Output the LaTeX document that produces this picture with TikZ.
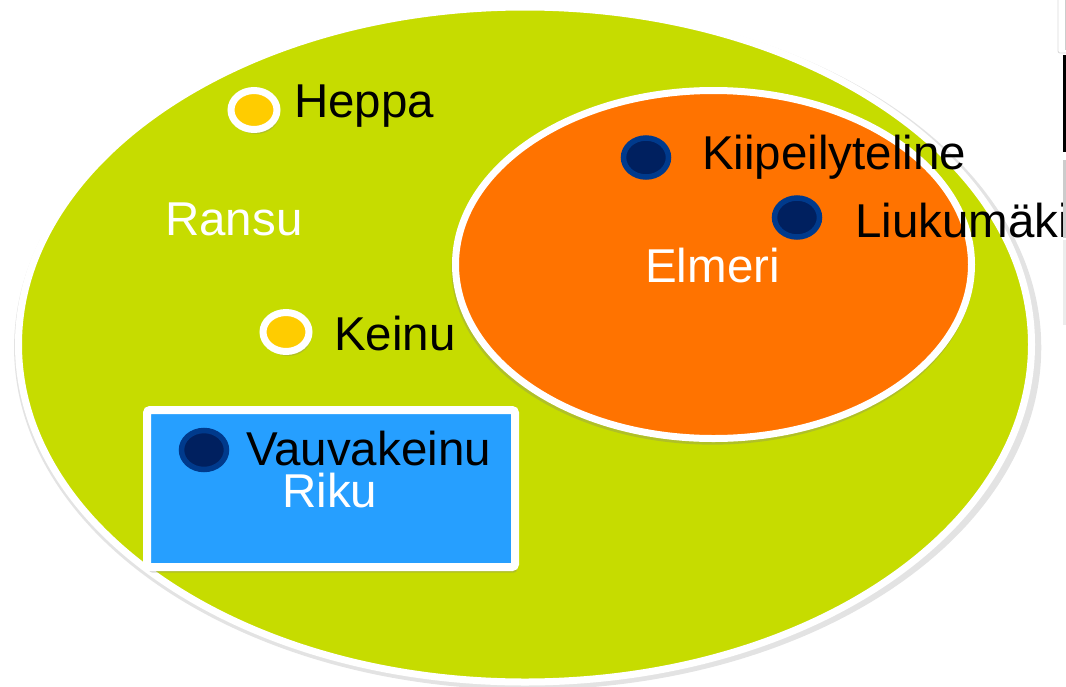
\documentclass[tikz,border=0pt]{standalone}
\usepackage{fontspec}
\setmainfont{Liberation Sans}
\usetikzlibrary{shapes.geometric,shadows}
\definecolor{ransugreen}{HTML}{C6DC00}
\definecolor{elmeriorange}{HTML}{FF7300}
\definecolor{rikublue}{HTML}{269FFF}
\definecolor{toyyellow}{HTML}{FFCC00}
\definecolor{toynavy}{HTML}{00205F}
\definecolor{toyrim}{HTML}{003A8C}
\tikzset{
    region/.style={
           draw=white, line width=7pt,
           },
    yellowdot/.style={
           ellipse, draw=white, fill=toyyellow, line width=7pt,
           minimum width=46pt, minimum height=39pt, inner sep=0pt,
           drop shadow={opacity=0.3, shadow xshift=2pt, shadow yshift=-4.5pt},
           },
    bluedot/.style={
           ellipse, draw=toyrim, fill=toynavy, line width=5.5pt,
           minimum width=45pt, minimum height=39pt, inner sep=0pt,
           },
    setlabel/.style={
           text=white, font=\fontsize{47.5}{52}\selectfont,
           inner sep=0pt, anchor=base west,
           },
    itemlabel/.style={
           setlabel, text=black,
           },
}

\begin{document}
\begin{tikzpicture}[x=1pt,y=-1pt]
	\useasboundingbox (0,0) rectangle (1066,686);
	\clip (0,0) rectangle (1066,686);

	% sets
	\node[region,ellipse,fill=ransugreen,minimum width=1013pt,minimum height=675pt,
		drop shadow={opacity=0.22, shadow scale=1.014, shadow yshift=-3pt}] (ransu) at (525,344.5) {};
	\node[region,ellipse,fill=elmeriorange,minimum width=516pt,minimum height=348pt,
		drop shadow={opacity=0.3, shadow scale=1.012, shadow xshift=-1pt, shadow yshift=-4pt}] (elmeri) at (713.5,264.5) {};
	\node[region,rectangle,rounded corners=3pt,fill=rikublue,line width=8pt,minimum width=368pt,minimum height=157pt,
		drop shadow={opacity=0.3, shadow xshift=2pt, shadow yshift=-5.5pt}] (riku) at (331,488.5) {};

	% set names
	\node[setlabel] (ransuname)  at (165,235) {Ransu};
	\node[setlabel] (elmeriname) at (645,282) {Elmeri};
	\node[setlabel] (rikuname)   at (282,507) {Riku};

	% toys
	\node[yellowdot] (heppa) at (254,110) {};
	\node[yellowdot] (keinu) at (286,332) {};
	\node[bluedot] (vauvakeinu) at (204,450) {};
	\node[bluedot] (kiipeily)   at (646,157.5) {};
	\node[bluedot] (liukumaki)  at (797,217.5) {};

	\node[itemlabel] (heppaname)      at (294,117) {Heppa};
	\node[itemlabel] (keinuname)      at (334,350) {Keinu};
	\node[itemlabel] (vauvakeinuname) at (246,465) {Vauvakeinu};
	\node[itemlabel] (kiipeilyname)   at (702,169) {Kiipeilyteline};
	\node[itemlabel] (liukumakiname)  at (855,237) {Liukumäki};

	% window edge at the right
	\draw[gray!30,line width=0.8pt,rounded corners=2pt] (1058,-1) -- (1058,53) -- (1067,53);
	\draw[gray!40,line width=0.6pt] (1065,-1) -- (1065,50);
	\fill[black] (1063,55) rectangle (1067,152);
	\fill[gray!40] (1063,160) rectangle (1067,238);
	\fill[gray!15] (1063,240) rectangle (1067,325);
\end{tikzpicture}
\end{document}
